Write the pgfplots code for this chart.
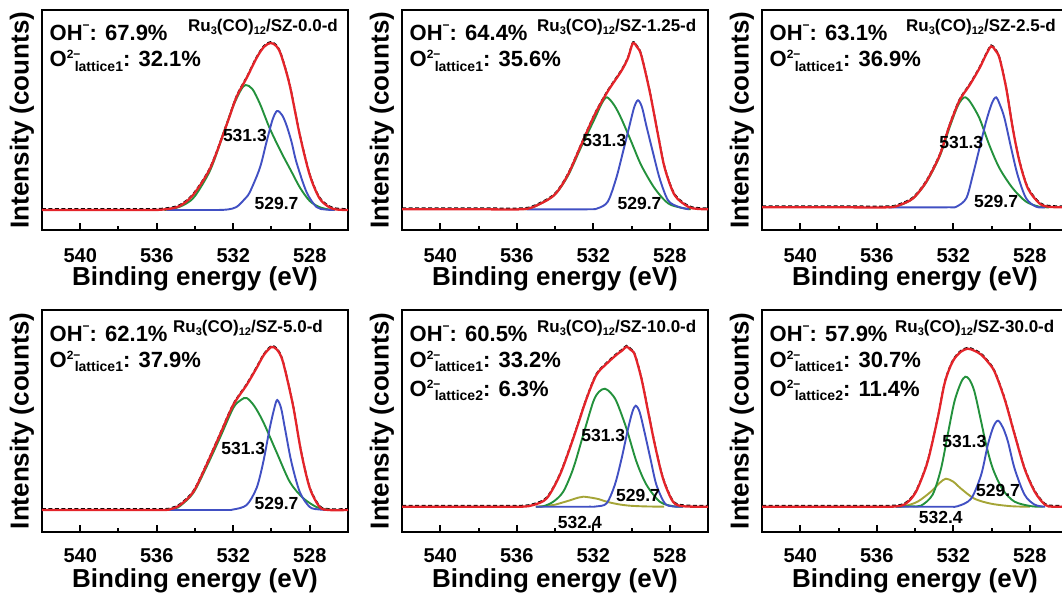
\documentclass[border=0pt]{standalone}
\usepackage{pgfplots}
\pgfplotsset{compat=1.18}
\usepackage{pgfplotstable}
\usepackage{fontspec}
\setmainfont{Liberation Sans}
\definecolor{cR}{RGB}{228,36,42}
\definecolor{cG}{RGB}{35,145,60}
\definecolor{cB}{RGB}{65,80,195}
\definecolor{cO}{RGB}{165,165,55}

\pgfplotsset{
 panel/.style={
  scale only axis, width=306pt, anchor=south west, clip=false,
  xmin=526, xmax=542, x dir=reverse,
  xtick={528,532,536,540}, minor xtick={530,534,538},
  xtick pos=lower, ytick=\empty,
  tick align=inside, major tick length=7pt, minor tick length=4pt,
  tick style={line width=2pt, black},
  axis line style={line width=2.2pt},
  /pgf/number format/assume math mode=true,
  xticklabel style={font=\bfseries\fontsize{20}{20}\selectfont, anchor=center},
 },
 toprow/.style={height=220pt, xticklabel style={yshift=-26pt}},
 botrow/.style={height=221.7pt, xticklabel style={yshift=-23.5pt}},
 sR/.style={cR, line width=2.3pt, smooth},
 sK/.style={black, line width=1.4pt, dash pattern=on 4pt off 2.5pt, smooth, yshift=1.2pt},
 sG/.style={cG, line width=1.9pt, smooth},
 sB/.style={cB, line width=1.9pt, smooth},
 sO/.style={cO, line width=1.9pt, smooth},
}

\newcommand\OH[1]{\fontsize{22}{22}\selectfont OH\raisebox{11pt}{\fontsize{12}{12}\selectfont −}: #1\%}
\newcommand\OL[2]{\fontsize{22}{22}\selectfont O\rlap{\raisebox{8pt}{\fontsize{12}{12}\selectfont 2−}}\kern8pt\raisebox{-4.5pt}{\fontsize{14}{14}\selectfont lattice#1}: #2\%}
\newcommand\Ru[1]{\fontsize{17}{17}\selectfont Ru\raisebox{-3pt}{\fontsize{11}{11}\selectfont 3}(CO)\raisebox{-3pt}{\fontsize{11}{11}\selectfont 12}/SZ-#1-d}
\newcommand\xl{\node[font=\bfseries\fontsize{26}{26}\selectfont] at ([yshift=-49pt]rel axis cs:0.5,0) {Binding energy (eV)};}
\newcommand\yl{\node[font=\bfseries\fontsize{26}{26}\selectfont, rotate=90] at ([xshift=-20pt]rel axis cs:0,0.5) {Intensity (counts)};}
\newcommand\pk[3]{\node[font=\bfseries\fontsize{17.5}{17.5}\selectfont] at (axis cs:#1,#2) {#3};}
\newcommand\tl[2]{\node[anchor=base west, inner sep=0pt, font=\bfseries] at ([xshift=7.5pt,yshift=#1]rel axis cs:0,1) {#2};}
\newcommand\rl[2]{\node[anchor=base west, inner sep=0pt, font=\bfseries] at ([xshift=#1,yshift=-22pt]rel axis cs:0,1) {\Ru{#2}};}

% ---------- panel 1 ----------
\pgfplotstableread[row sep=\\]{x y\\ 542 0\\ 538 0\\ 536.2 0\\ 535.5 0.8\\ 534.8 4\\ 534.1 15\\ 533.2 42\\ 532.35 85\\ 531.83 113\\ 531.3 132\\ 530.78 152\\ 530.4 163\\ 530.05 167\\ 529.75 164\\ 529.5 155\\ 529.05 125\\ 528.52 75\\ 528.0 35\\ 527.5 12\\ 527.0 3\\ 526.6 0.5\\ 526 0\\}\RA
\pgfplotstableread[row sep=\\]{x y\\ 535.6 0\\ 535.0 2\\ 534.5 6\\ 534.0 14\\ 533.2 40\\ 532.5 77\\ 532.0 104\\ 531.6 120\\ 531.35 125\\ 531.0 121\\ 530.6 106\\ 530.1 82\\ 529.5 58\\ 529.0 40\\ 528.5 22\\ 528.0 9\\ 527.5 3\\ 527.0 0.5\\ 526.7 0\\}\GA
\pgfplotstableread[row sep=\\]{x y\\ 535.5 0\\ 533.0 0\\ 532.3 0.5\\ 531.83 3\\ 531.4 11\\ 531.13 18\\ 530.61 42\\ 530.26 68\\ 529.95 90\\ 529.71 99\\ 529.45 95\\ 529.22 85\\ 528.95 68\\ 528.7 48\\ 528.17 18\\ 527.65 3\\ 527.2 0.5\\ 526.7 0\\}\BA
% ---------- panel 2 ----------
\pgfplotstableread[row sep=\\]{x y\\ 542 0\\ 538 0\\ 535.8 0\\ 535.1 2.6\\ 534.05 14\\ 533.34 34\\ 532.64 64\\ 531.94 94\\ 531.24 118\\ 530.54 138\\ 530.19 151\\ 529.93 166\\ 529.7 162\\ 529.49 154\\ 529.05 118\\ 528.61 74\\ 528.26 41\\ 527.74 14\\ 527.04 2.6\\ 526.6 0.5\\ 526 0\\}\RB
\pgfplotstableread[row sep=\\]{x y\\ 535.6 0\\ 535.1 2.5\\ 534.05 14\\ 533.34 33\\ 532.64 62\\ 531.94 90\\ 531.55 106\\ 531.28 112\\ 530.9 104\\ 530.54 91\\ 530.02 68\\ 529.49 44\\ 528.79 21\\ 528.09 6\\ 527.39 1.5\\ 526.9 0\\}\GB
\pgfplotstableread[row sep=\\]{x y\\ 535.5 0\\ 532.3 0\\ 531.77 1\\ 531.24 7.6\\ 530.8 31\\ 530.45 57\\ 530.1 84\\ 529.86 102\\ 529.66 109\\ 529.45 102\\ 529.23 84\\ 528.88 57\\ 528.53 31\\ 528.09 9\\ 527.56 2.6\\ 527.0 0\\}\BB
% ---------- panel 3 ----------
\pgfplotstableread[row sep=\\]{x y\\ 542 0\\ 538 0\\ 535.4 0\\ 534.8 2.3\\ 534.1 9\\ 533.41 25.6\\ 532.71 52\\ 532.19 82\\ 531.67 107\\ 531.15 122\\ 530.63 139\\ 530.3 152\\ 530.02 161\\ 529.8 157\\ 529.58 149\\ 529.23 119\\ 528.89 79\\ 528.54 46\\ 528.1 19\\ 527.5 4\\ 527.0 0.5\\ 526 0\\}\RC
\pgfplotstableread[row sep=\\]{x y\\ 535.4 0\\ 534.8 2\\ 534.1 9\\ 533.41 25\\ 532.71 51\\ 532.19 80\\ 531.8 100\\ 531.55 108\\ 531.36 110\\ 531.1 105\\ 530.63 89\\ 530.11 62\\ 529.58 39\\ 528.89 19\\ 528.19 5.6\\ 527.5 0.6\\ 527.0 0\\}\GC
\pgfplotstableread[row sep=\\]{x y\\ 535.4 0\\ 532.3 0\\ 531.84 0.6\\ 531.32 9\\ 530.98 32\\ 530.63 59\\ 530.28 86\\ 529.98 104\\ 529.76 110\\ 529.55 102\\ 529.32 89\\ 528.97 59\\ 528.63 32\\ 528.19 9\\ 527.67 0.6\\ 527.2 0\\}\BC
% ---------- panel 4 ----------
\pgfplotstableread[row sep=\\]{x y\\ 542 0\\ 538 0\\ 535.7 0\\ 535.25 1\\ 534.78 5\\ 534.09 18\\ 533.4 45\\ 532.7 75\\ 532.0 105\\ 531.3 125\\ 530.78 142\\ 530.4 155\\ 530.0 163\\ 529.7 160\\ 529.4 148\\ 528.88 105\\ 528.45 58\\ 528.0 22\\ 527.48 3\\ 527.0 0\\ 526 0\\}\RD
\pgfplotstableread[row sep=\\]{x y\\ 535.5 0\\ 535.0 2\\ 534.78 4\\ 534.09 17\\ 533.4 43\\ 532.7 72\\ 532.0 102\\ 531.6 110\\ 531.3 112\\ 530.9 104\\ 530.43 88\\ 529.74 58\\ 529.04 28\\ 528.35 12\\ 527.65 3\\ 527.13 0.5\\ 526.8 0\\}\GD
\pgfplotstableread[row sep=\\]{x y\\ 535.5 0\\ 532.5 0\\ 532.0 0.5\\ 531.3 5\\ 530.78 22\\ 530.43 48\\ 530.09 82\\ 529.85 102\\ 529.7 110\\ 529.5 102\\ 529.3 82\\ 528.96 48\\ 528.52 18\\ 528.0 3\\ 527.48 0.5\\ 527.0 0\\}\BD
% ---------- panel 5 ----------
\pgfplotstableread[row sep=\\]{x y\\ 542 0\\ 538 0\\ 535.8 0\\ 535.13 1.7\\ 534.43 8.4\\ 533.74 32\\ 533.05 68\\ 532.35 108\\ 531.83 132\\ 531.3 143\\ 530.78 152\\ 530.5 156\\ 530.26 160\\ 530.05 157\\ 529.83 152\\ 529.48 128\\ 529.13 95\\ 528.78 62\\ 528.35 28\\ 527.83 5\\ 527.3 0.5\\ 526 0\\}\RE
\pgfplotstableread[row sep=\\]{x y\\ 535.0 0\\ 534.6 0.5\\ 534.09 5\\ 533.57 15\\ 533.05 38\\ 532.52 72\\ 532.0 105\\ 531.7 115\\ 531.39 118\\ 531.1 114\\ 530.78 105\\ 530.26 78\\ 529.74 45\\ 529.22 22\\ 528.52 5\\ 527.83 0.5\\ 527.3 0\\}\GE
\pgfplotstableread[row sep=\\]{x y\\ 535.0 0\\ 532.3 0\\ 531.83 0.3\\ 531.3 3.4\\ 530.87 22\\ 530.52 48\\ 530.18 78\\ 529.95 95\\ 529.78 101\\ 529.58 95\\ 529.36 78\\ 529.01 48\\ 528.7 22\\ 528.26 3.4\\ 527.83 0.3\\ 527.3 0\\}\BE
\pgfplotstableread[row sep=\\]{x y\\ 535.0 0\\ 534.6 0.5\\ 534.0 2\\ 533.74 3.4\\ 533.2 6.5\\ 532.8 9\\ 532.52 10\\ 532.1 9\\ 531.7 7.5\\ 531.3 5\\ 530.7 2.5\\ 530.09 1\\ 529.3 0.3\\ 528.3 0\\}\OE
% ---------- panel 6 ----------
\pgfplotstableread[row sep=\\]{x y\\ 542 0\\ 538 0\\ 535.4 0\\ 534.9 0.5\\ 534.57 2\\ 534.2 8\\ 533.87 18\\ 533.34 45\\ 532.82 88\\ 532.47 122\\ 532.2 138\\ 531.94 148\\ 531.6 155\\ 531.24 158\\ 530.9 156\\ 530.54 152\\ 530.2 145\\ 529.84 135\\ 529.32 108\\ 528.79 72\\ 528.27 38\\ 527.74 15\\ 527.21 2\\ 526.8 0\\ 526 0\\}\RF
\pgfplotstableread[row sep=\\]{x y\\ 535.0 0\\ 534.2 0.5\\ 533.69 1\\ 533.08 12\\ 532.64 38\\ 532.29 72\\ 531.94 105\\ 531.6 124\\ 531.37 130\\ 531.15 127\\ 530.89 115\\ 530.54 85\\ 530.28 62\\ 529.93 38\\ 529.41 17\\ 528.79 5\\ 527.92 0.5\\ 527.3 0\\}\GF
\pgfplotstableread[row sep=\\]{x y\\ 535.0 0\\ 532.3 0\\ 531.77 0.5\\ 531.07 8\\ 530.54 32\\ 530.19 62\\ 529.9 80\\ 529.66 86\\ 529.4 79\\ 529.14 65\\ 528.79 38\\ 528.27 12\\ 527.74 2\\ 527.2 0\\}\BF
\pgfplotstableread[row sep=\\]{x y\\ 535.0 0\\ 534.57 0.5\\ 533.87 5\\ 533.17 15\\ 532.7 24\\ 532.38 28\\ 532.0 25\\ 531.59 18\\ 530.89 8\\ 530.02 3\\ 528.97 0.5\\ 528.0 0\\}\OF

\begin{document}
\begin{tikzpicture}
\useasboundingbox (0,0) rectangle (1062pt,592pt);
\clip (0,0) rectangle (1062pt,592pt);

% panel 1
\begin{axis}[panel, toprow, at={(42pt,362pt)}, ymin=-20, ymax=200]
\addplot[sK] table {\RA};
\addplot[sG] table {\GA};
\addplot[sB] table {\BA};
\addplot[sR] table {\RA};
\pk{531.39}{75}{531.3}
\pk{529.74}{7}{529.7}
\tl{-31pt}{\OH{67.9}}
\tl{-57pt}{\OL{1}{32.1}}
\rl{146pt}{0.0}
\xl \yl
\end{axis}

% panel 2
\begin{axis}[panel, toprow, at={(402pt,362pt)}, ymin=-20.7, ymax=199.3]
\addplot[sK] table {\RB};
\addplot[sG] table {\GB};
\addplot[sB] table {\BB};
\addplot[sR] table {\RB};
\pk{531.42}{69}{531.3}
\pk{529.58}{6}{529.7}
\tl{-31pt}{\OH{64.4}}
\tl{-57pt}{\OL{1}{35.6}}
\rl{135pt}{1.25}
\xl \yl
\end{axis}

% panel 3
\begin{axis}[panel, toprow, at={(762pt,362pt)}, ymin=-22.7, ymax=197.3]
\addplot[sK] table {\RC};
\addplot[sG] table {\GC};
\addplot[sB] table {\BC};
\addplot[sR] table {\RC};
\pk{531.58}{65}{531.3}
\pk{529.76}{6}{529.7}
\tl{-31pt}{\OH{63.1}}
\tl{-57pt}{\OL{1}{36.9}}
\rl{144pt}{2.5}
\xl \yl
\end{axis}

% panel 4
\begin{axis}[panel, botrow, at={(42pt,60.3pt)}, ymin=-21.7, ymax=200]
\addplot[sK] table {\RD};
\addplot[sG] table {\GD};
\addplot[sB] table {\BD};
\addplot[sR] table {\RD};
\pk{531.48}{62}{531.3}
\pk{529.74}{7}{529.7}
\tl{-31pt}{\OH{62.1}}
\tl{-57pt}{\OL{1}{37.9}}
\rl{131pt}{5.0}
\xl \yl
\end{axis}

% panel 5
\begin{axis}[panel, botrow, at={(402pt,60.3pt)}, ymin=-25, ymax=196.7]
\addplot[sK] table {\RE};
\addplot[sO] table {\OE};
\addplot[sG] table {\GE};
\addplot[sB] table {\BE};
\addplot[sR] table {\RE};
\pk{531.48}{71}{531.3}
\pk{529.66}{11}{529.7}
\pk{532.7}{-16}{532.4}
\tl{-31pt}{\OH{60.5}}
\tl{-57pt}{\OL{1}{33.2}}
\tl{-86pt}{\OL{2}{6.3}}
\rl{135pt}{10.0}
\xl \yl
\end{axis}

% panel 6
\begin{axis}[panel, botrow, at={(762pt,60.3pt)}, ymin=-25, ymax=196.7]
\addplot[sK] table {\RF};
\addplot[sO] table {\OF};
\addplot[sG] table {\GF};
\addplot[sB] table {\BF};
\addplot[sR] table {\RF};
\pk{531.42}{65}{531.3}
\pk{529.66}{16}{529.7}
\pk{532.65}{-11}{532.4}
\tl{-31pt}{\OH{57.9}}
\tl{-57pt}{\OL{1}{30.7}}
\tl{-86pt}{\OL{2}{11.4}}
\rl{133pt}{30.0}
\xl \yl
\end{axis}
\end{tikzpicture}
\end{document}
